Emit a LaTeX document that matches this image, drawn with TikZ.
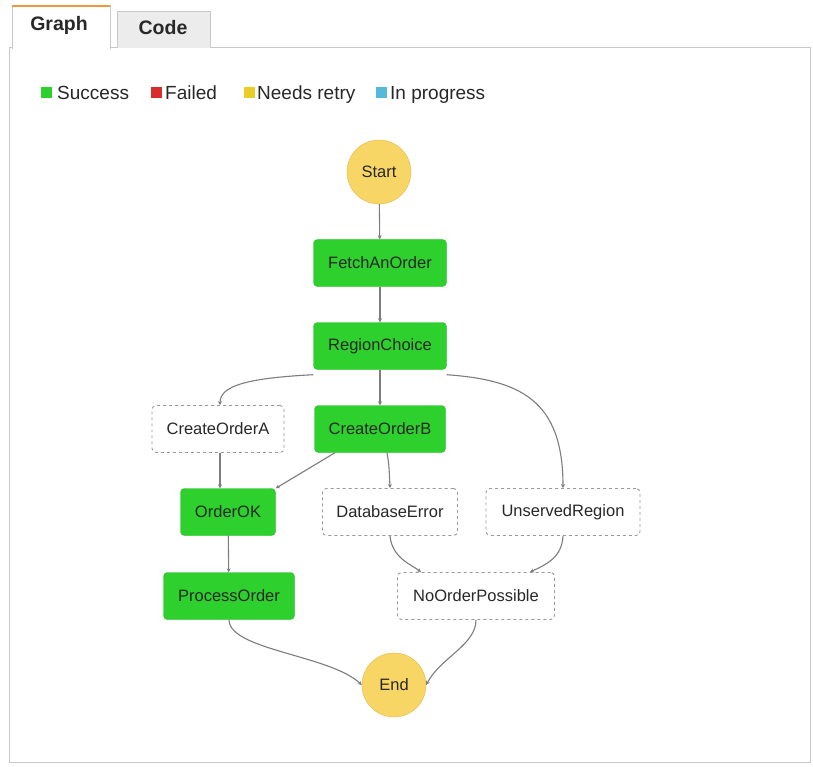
\documentclass[tikz,border=0pt]{standalone}
\usepackage{fontspec}
\setmainfont{Liberation Sans}
\usetikzlibrary{arrows.meta}
\definecolor{okgreen}{RGB}{45,208,45}
\definecolor{okgreenb}{RGB}{35,185,35}
\definecolor{startyel}{RGB}{248,214,102}
\definecolor{startyelb}{RGB}{225,185,70}
\definecolor{edgegray}{RGB}{125,125,125}
\definecolor{panelgray}{RGB}{200,200,200}
\definecolor{failred}{RGB}{215,45,45}
\definecolor{retryyel}{RGB}{235,205,40}
\definecolor{progblue}{RGB}{85,185,220}
\definecolor{tabgray}{RGB}{236,236,236}
\definecolor{taborange}{RGB}{240,150,60}
\definecolor{textdark}{RGB}{40,40,40}
\tikzset{
  x=1pt, y=-1pt,
  nodefont/.style={font=\fontsize{16.5}{18}\selectfont, text=textdark},
  okbox/.style={nodefont, draw=okgreenb, fill=okgreen, rounded corners=4pt, minimum width=133pt, minimum height=47pt, inner sep=2pt},
  dashbox/.style={nodefont, draw=gray!80, line width=0.9pt, dash pattern=on 3pt off 3pt, fill=white, rounded corners=4pt, minimum height=47pt, inner sep=2pt},
  term/.style={nodefont, circle, draw=startyelb, fill=startyel, minimum size=64pt, inner sep=0pt},
  conn/.style={draw=edgegray, line width=1.1pt, -{Stealth[length=4pt,width=4pt]}},
  legsq/.style={minimum size=11pt, inner sep=0pt},
  legtxt/.style={font=\fontsize{19}{21}\selectfont, text=textdark, anchor=base west, inner sep=0pt},
  tabtxt/.style={font=\bfseries\fontsize{19.5}{21}\selectfont, text=textdark},
}
\begin{document}
\begin{tikzpicture}
\useasboundingbox (0,0) rectangle (813,767);
\fill[white] (0,0) rectangle (813,767);
% panel
\draw[panelgray, line width=1pt] (9,48) rectangle (810,762);
% tabs
\fill[white] (12,6) rectangle (110,49);
\draw[panelgray, line width=1pt] (12,49) -- (12,6) -- (110,6) -- (110,49);
\draw[taborange, line width=2pt] (12,6) -- (110,6);
\node[tabtxt] (tabgraph) at (59,25) {Graph};
\draw[panelgray, line width=1pt, fill=tabgray] (117,48) -- (117,12) -- (210,12) -- (210,48);
\node[tabtxt] (tabcode) at (163,28) {Code};
% legend
\node[legsq, fill=okgreen] (lg1) at (46,93) {};
\node[legtxt] (lt1) at (57,99.5) {Success};
\node[legsq, fill=failred] (lg2) at (156,93) {};
\node[legtxt] (lt2) at (165,99.5) {Failed};
\node[legsq, fill=retryyel] (lg3) at (249,93) {};
\node[legtxt] (lt3) at (257,99.5) {Needs retry};
\node[legsq, fill=progblue] (lg4) at (381,93) {};
\node[legtxt] (lt4) at (390,99.5) {In progress};
% nodes
\node[term] (start) at (379,172) {Start};
\node[okbox] (fetch) at (380,263) {FetchAnOrder};
\node[okbox] (region) at (380,346) {RegionChoice};
\node[dashbox, minimum width=132pt] (coa) at (218,429) {CreateOrderA};
\node[okbox, minimum width=131pt] (cob) at (380,429) {CreateOrderB};
\node[okbox, minimum width=95pt] (ok) at (228,512) {OrderOK};
\node[dashbox, minimum width=135pt] (dberr) at (390,512) {DatabaseError};
\node[dashbox, minimum width=154pt] (unserved) at (563,512) {UnservedRegion};
\node[okbox, minimum width=131pt] (proc) at (229,596) {ProcessOrder};
\node[dashbox, minimum width=157pt] (noorder) at (476,596) {NoOrderPossible};
\node[term] (end) at (394,685) {End};
% connectors
\draw[conn] (start) -- (fetch);
\draw[conn] (fetch) -- (region);
\draw[conn] ([yshift=-5pt]region.south west) .. controls (250,378) and (220,385) .. (coa.north -| 220,0);
\draw[conn] (region) -- (cob);
\draw[conn] ([yshift=-5pt]region.south east) .. controls (520,380) and (563,400) .. (unserved.north);
\draw[conn] (coa.south -| 220,0) -- (ok.north -| 220,0);
\draw[conn] ([xshift=-45pt]cob.south) -- (ok.north east);
\draw[conn] ([xshift=7pt]cob.south) .. controls (389,465) .. (dberr.north);
\draw[conn] (dberr.south) .. controls (392,558) and (412,565) .. ([xshift=-55pt]noorder.north);
\draw[conn] (unserved.south) .. controls (562,558) and (545,565) .. ([xshift=54pt]noorder.north);
\draw[conn] (ok) -- (proc);
\draw[conn] (proc.south) .. controls (229,650) and (330,655) .. (end.west);
\draw[conn] (noorder.south) .. controls (476,645) and (440,658) .. (end.east);
\end{tikzpicture}
\end{document}
